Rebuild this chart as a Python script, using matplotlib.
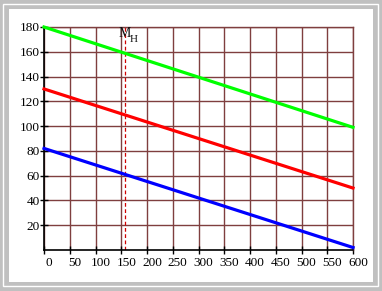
import matplotlib
matplotlib.use("Agg")
import matplotlib.pyplot as plt
from matplotlib.patches import Rectangle
from matplotlib.transforms import offset_copy

# data (straight lines, endpoints)
x_vals = [0, 600]
green_vals = [180, 99]
red_vals = [130, 50]
blue_vals = [82, 2]
m_h = 157  # dashed marker position
x_ticks = list(range(0, 601, 50))
y_ticks = list(range(20, 181, 20))

plt.rcParams['font.family'] = ['Liberation Serif', 'DejaVu Serif']

W, H = 382, 291
fig = plt.figure(figsize=(W / 100, H / 100), dpi=100, facecolor='#c0c0c0')

# bevelled frame, kept behind the axes
def px_rect(x0, y0, x1, y1, **kw):
    return Rectangle((x0 / W, 1 - y1 / H), (x1 - x0) / W, (y1 - y0) / H,
                     transform=fig.transFigure, zorder=-10, **kw)

fig.patches.append(px_rect(2.5, 3.5, 377.5, 285.5, fill=False, edgecolor='white', linewidth=1.0))
fig.patches.append(px_rect(9, 9, 373, 282, facecolor='white', edgecolor='none'))

ax = fig.add_axes([44 / W, 1 - 250 / H, (353 - 44) / W, (250 - 27) / H])
ax.set_zorder(5)
ax.set_facecolor('white')

grid_col = '#7f3f3f'
ax.set_xlim(0, 600)
ax.set_ylim(0, 180)
ax.set_xticks(x_ticks)
ax.set_yticks(y_ticks)
ax.grid(True, color=grid_col, linewidth=1.0, zorder=1)
for s in ['top', 'right']:
    ax.spines[s].set_color(grid_col)
    ax.spines[s].set_linewidth(1.0)
for s in ['left', 'bottom']:
    ax.spines[s].set_color('black')
    ax.spines[s].set_linewidth(1.2)
ax.set_axisbelow(True)

ax.tick_params(axis='x', direction='inout', length=6, width=1, color='black',
               labelsize=9.5, pad=2)
ax.tick_params(axis='y', direction='inout', length=6, width=1, color='black',
               labelsize=9.5, pad=0)
# x labels sit a little to the right of their ticks
for lab in ax.get_xticklabels():
    lab.set_transform(offset_copy(lab.get_transform(), fig=fig, x=5, y=0, units='dots'))

ax.plot(x_vals, green_vals, color='#00ff00', linewidth=2.3, zorder=3, clip_on=False)
ax.plot(x_vals, red_vals, color='#ff0000', linewidth=2.3, zorder=3, clip_on=False)
ax.plot(x_vals, blue_vals, color='#0000ff', linewidth=2.3, zorder=3, clip_on=False)

ax.axvline(m_h, color='#d00000', linewidth=0.9, linestyle=(0, (3, 2)), zorder=2)

# label "M" with subscript "H"
ax.text(m_h - 12, 174.5, 'M', fontsize=10, color='#101010',
        ha='left', va='center', zorder=4)
ax.text(m_h + 10, 170, 'H', fontsize=8, color='#101010',
        ha='left', va='center', zorder=4)

fig.savefig('out.png', dpi=100, facecolor=fig.get_facecolor())
